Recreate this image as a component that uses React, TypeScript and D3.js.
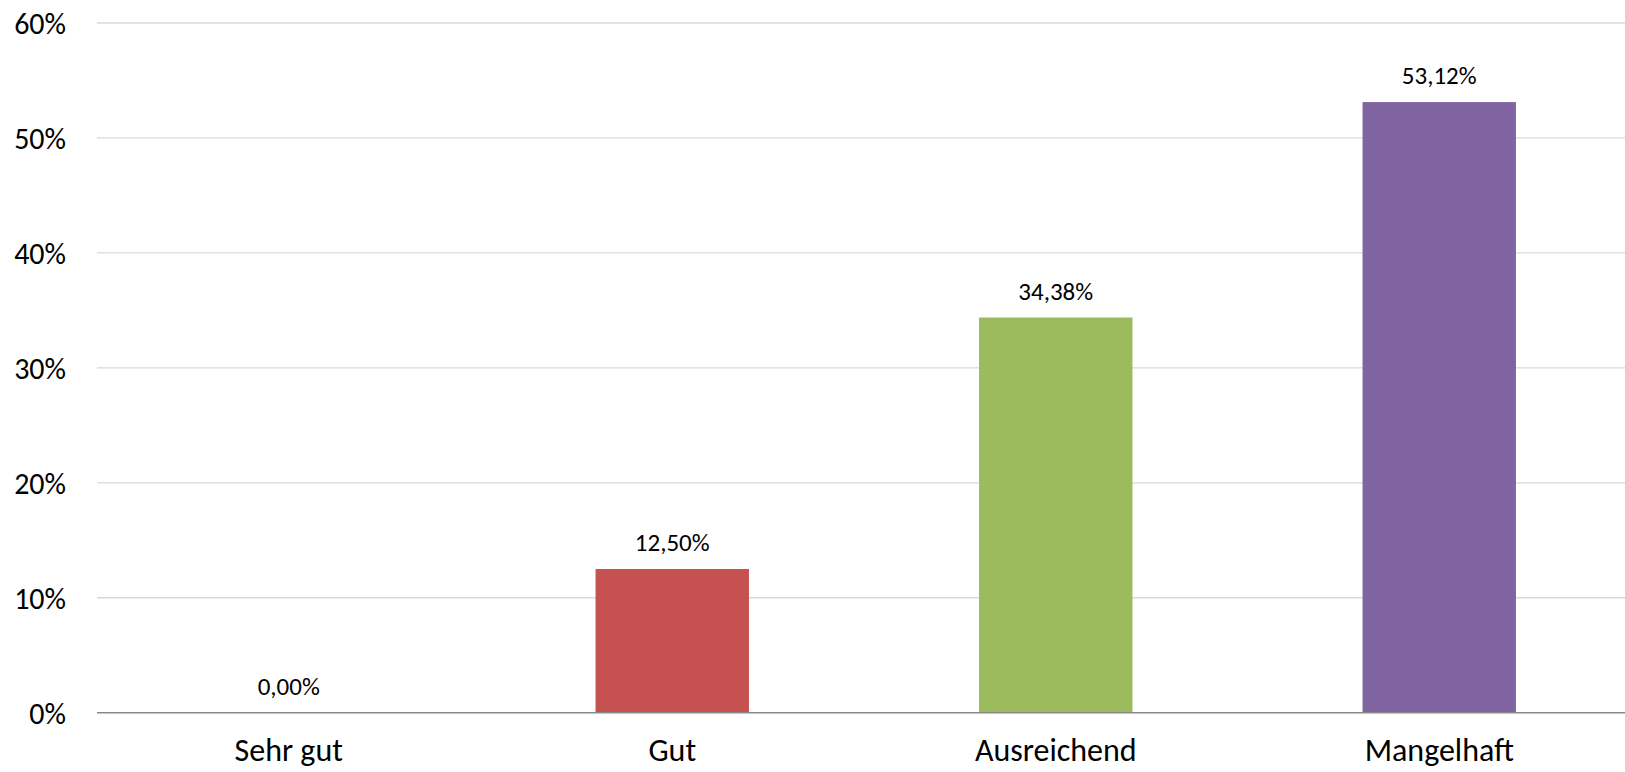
import { useRef, useEffect } from 'react';
import * as d3 from 'd3';

const categories = ['Sehr gut', 'Gut', 'Ausreichend', 'Mangelhaft'];
const values = [0.0, 0.125, 0.3438, 0.5312];
const valueLabels = ['0,00%', '12,50%', '34,38%', '53,12%'];
const yTicks = [0, 0.1, 0.2, 0.3, 0.4, 0.5, 0.6];
const yTickLabels = ['0%', '10%', '20%', '30%', '40%', '50%', '60%'];
const colors = ['#4F81BD', '#C55250', '#9BBB5C', '#8064A2'];

const FONT = 'Calibri, Carlito, Lato, sans-serif';

const BarChart = () => {
    const ref = useRef<SVGSVGElement>(null);

    useEffect(() => {
        const svg = d3.select(ref.current);
        svg.selectAll('*').remove();

        const width = 1625;
        const left = 97;

        const x = d3.scaleBand()
            .domain(categories)
            .range([left, left + 4 * 383.5])
            .paddingInner(0.6)
            .paddingOuter(0.3);

        const y = d3.scaleLinear()
            .domain([0, 0.6])
            .range([712.7, 23]);

        // gridlines
        svg.append('g')
            .selectAll('line')
            .data(yTicks.slice(1))
            .enter().append('line')
            .attr('x1', left)
            .attr('x2', width)
            .attr('y1', d => y(d))
            .attr('y2', d => y(d))
            .attr('stroke', '#D9D9D9')
            .attr('stroke-width', 1.3);

        // y tick labels
        svg.append('g')
            .selectAll('text')
            .data(yTicks)
            .enter().append('text')
            .attr('x', 66)
            .attr('y', d => y(d))
            .attr('dy', '0.36em')
            .attr('text-anchor', 'end')
            .attr('font-family', FONT)
            .attr('font-size', '30px')
            .attr('fill', '#000')
            .text((_, i) => yTickLabels[i]);

        // bars
        svg.append('g')
            .selectAll('rect')
            .data(values)
            .enter().append('rect')
            .attr('x', (_, i) => x(categories[i]))
            .attr('y', d => y(d))
            .attr('width', x.bandwidth())
            .attr('height', d => y(0) - y(d))
            .attr('fill', (_, i) => colors[i]);

        // baseline axis
        svg.append('line')
            .attr('x1', left)
            .attr('x2', width)
            .attr('y1', y(0))
            .attr('y2', y(0))
            .attr('stroke', '#898989')
            .attr('stroke-width', 1.5);

        // value labels
        svg.append('g')
            .selectAll('text')
            .data(values)
            .enter().append('text')
            .attr('x', (_, i) => x(categories[i]) + x.bandwidth() / 2)
            .attr('y', d => y(d) - 18)
            .attr('text-anchor', 'middle')
            .attr('font-family', FONT)
            .attr('font-size', '25px')
            .attr('fill', '#000')
            .text((_, i) => valueLabels[i]);

        // category labels
        svg.append('g')
            .selectAll('text')
            .data(categories)
            .enter().append('text')
            .attr('x', d => x(d) + x.bandwidth() / 2)
            .attr('y', 761)
            .attr('text-anchor', 'middle')
            .attr('font-family', FONT)
            .attr('font-size', '32px')
            .attr('fill', '#000')
            .text(d => d);
    }, []);

    return (
        <svg
            ref={ref}
            width={1625}
            height={772}
            style={{ position: 'absolute', left: 0, top: 0, display: 'block', background: '#fff' }}
        ></svg>
    );
};

export default function App() {
    return <BarChart />;
}
